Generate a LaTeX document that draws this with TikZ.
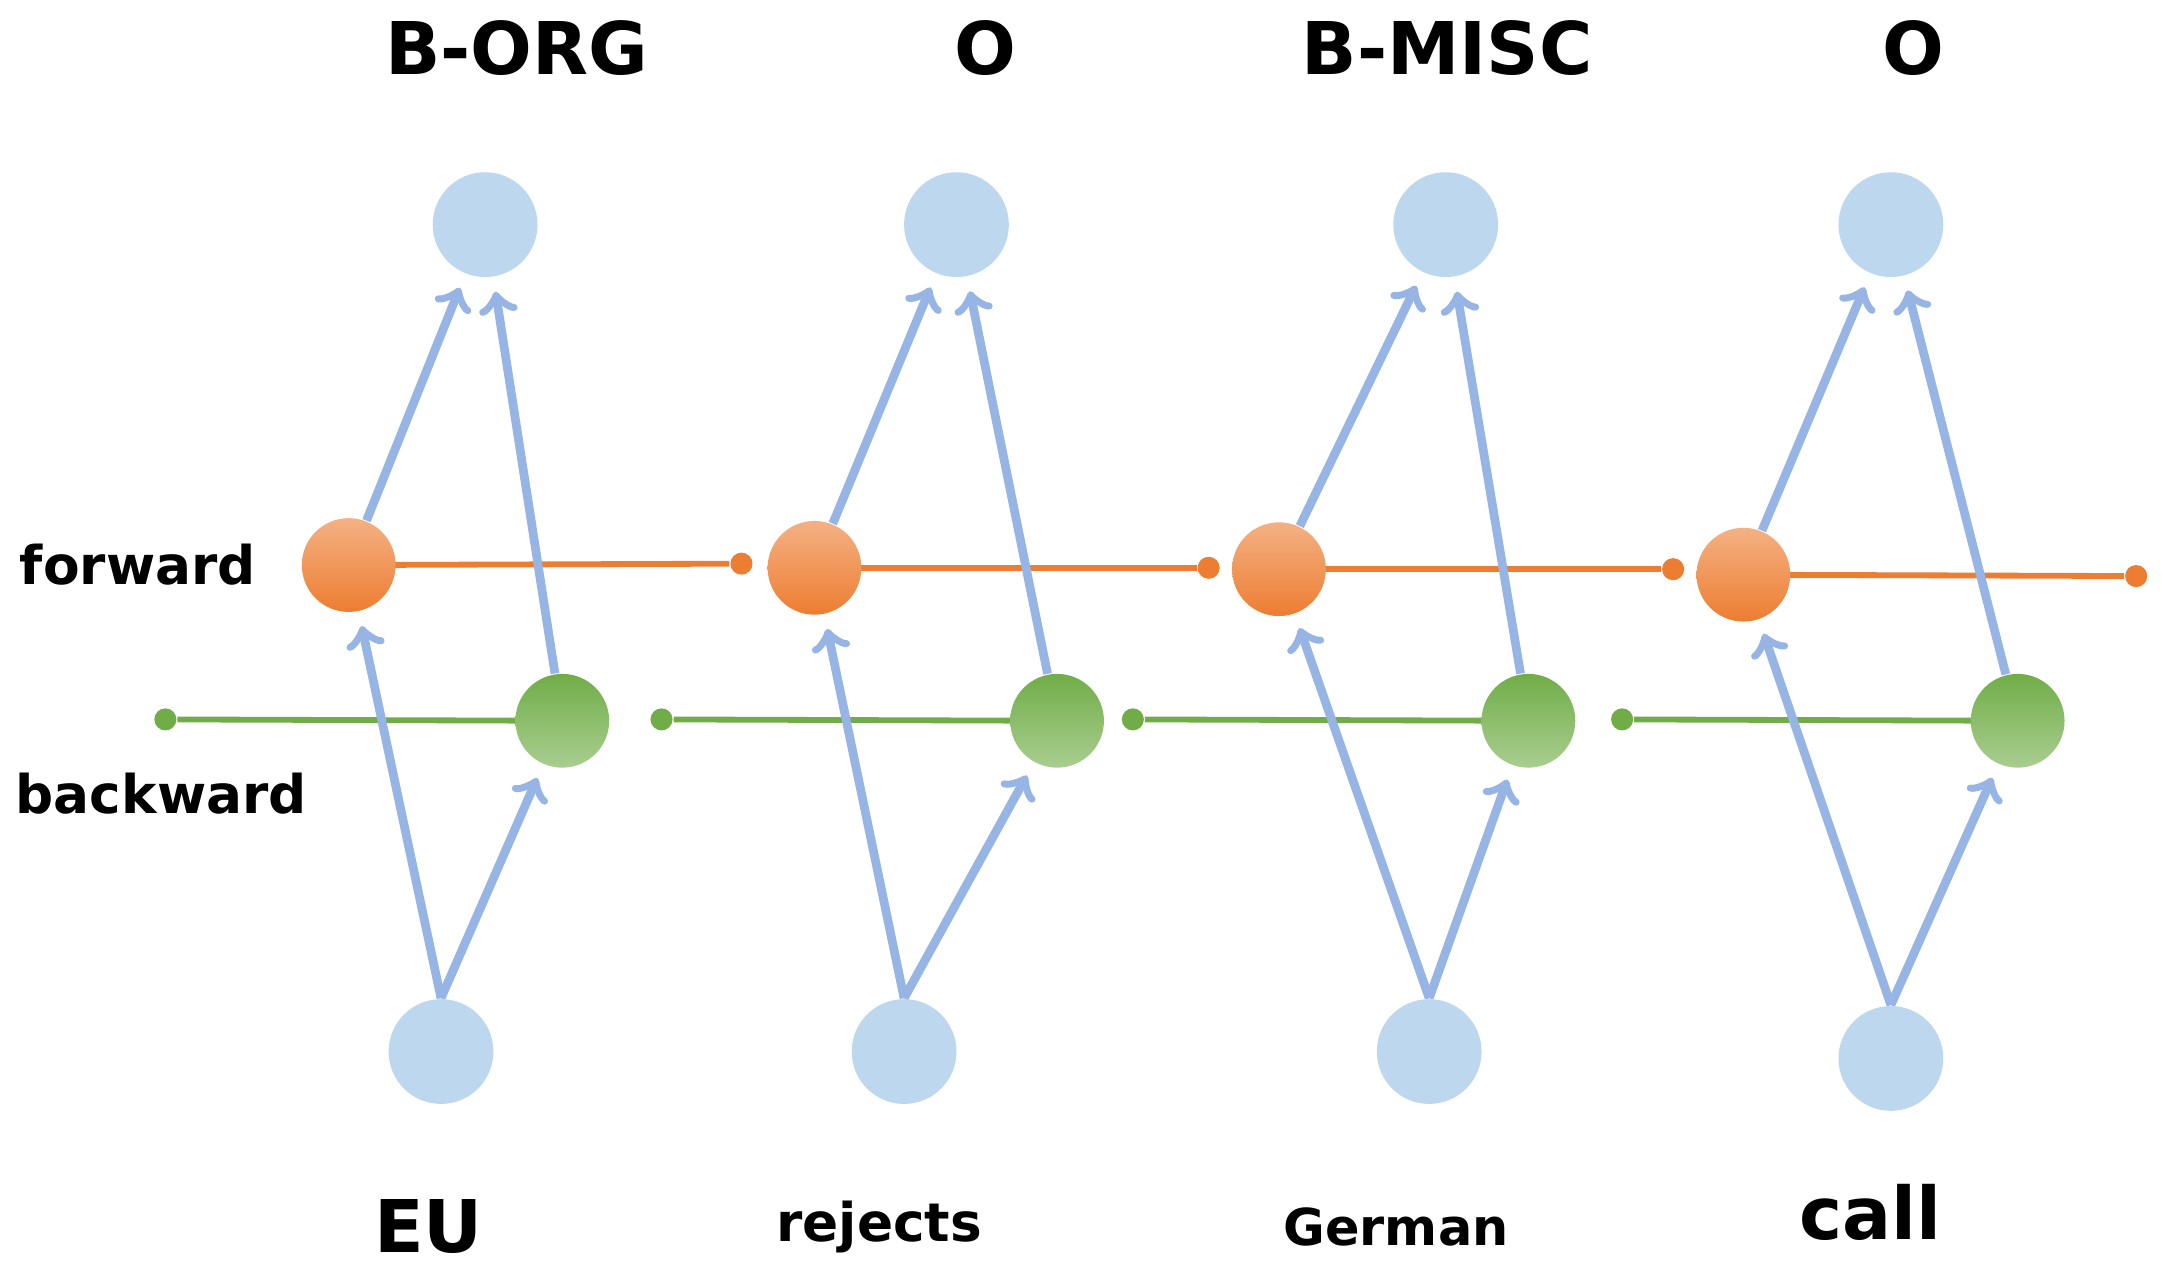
\documentclass[tikz,border=0pt]{standalone}
\usepackage{fontspec}
\setmainfont{DejaVu Sans}
\usetikzlibrary{backgrounds}
\definecolor{cellblue}{RGB}{189,215,238}
\definecolor{arrowblue}{RGB}{150,180,228}
\definecolor{fwdorange}{RGB}{237,125,49}
\definecolor{bwdgreen}{RGB}{112,173,71}
\tikzset{
  cell/.style={circle, fill=cellblue, minimum size=7.6mm, inner sep=0pt},
  fwd/.style={circle, top color=fwdorange!60!white, bottom color=fwdorange, minimum size=6.8mm, inner sep=0pt},
  bwd/.style={circle, top color=bwdgreen, bottom color=bwdgreen!60!white, minimum size=6.8mm, inner sep=0pt},
  dot/.style={circle, fill=#1, minimum size=1.6mm, inner sep=0pt},
  link/.style={->, >=to, draw=arrowblue, line width=1.8pt, shorten >=3pt},
  tag/.style={font=\bfseries\fontsize{15}{15}\selectfont},
  word/.style={font=\bfseries\fontsize{11}{11}\selectfont},
}
\begin{document}
\begin{tikzpicture}[x=0.01cm, y=-0.01cm]

     \useasboundingbox (0,0) rectangle (1568,928);

     % output cells
     \node (t1) at (352,163) [cell] {};
     \node (t2) at (694,163) [cell] {};
     \node (t3) at (1049,163) [cell] {};
     \node (t4) at (1372,163) [cell] {};

     % forward states
     \node (f1) at (253,410) [fwd] {};
     \node (f2) at (591,412) [fwd] {};
     \node (f3) at (928,413) [fwd] {};
     \node (f4) at (1265,417) [fwd] {};
     \node (e1) at (538,409) [dot=fwdorange] {};
     \node (e2) at (877,412) [dot=fwdorange] {};
     \node (e3) at (1214,413) [dot=fwdorange] {};
     \node (e4) at (1550,418) [dot=fwdorange] {};

     % backward states
     \node (b1) at (408,523) [bwd] {};
     \node (b2) at (767,523) [bwd] {};
     \node (b3) at (1109,523) [bwd] {};
     \node (b4) at (1464,523) [bwd] {};
     \node (s1) at (120,522) [dot=bwdgreen] {};
     \node (s2) at (480,522) [dot=bwdgreen] {};
     \node (s3) at (822,522) [dot=bwdgreen] {};
     \node (s4) at (1177,522) [dot=bwdgreen] {};

     % input cells
     \node (w1) at (320,763) [cell] {};
     \node (w2) at (656,763) [cell] {};
     \node (w3) at (1037,763) [cell] {};
     \node (w4) at (1372,768) [cell] {};

     \begin{scope}[on background layer]
     \foreach \i in {1,2,3,4} {
       \draw [fwdorange, line width=1.2pt] (f\i.center) -- (e\i);
       \draw [bwdgreen, line width=1.2pt] (b\i.center) -- (s\i);
       \draw [link] (w\i.north) -- (f\i);
       \draw [link] (w\i.north) -- (b\i);
       \draw [link] (f\i) -- (t\i);
       \draw [link] (b\i) -- (t\i);
     }
     \end{scope}

     \node (l1) at (375,35) [tag] {B-ORG};
     \node (l2) at (715,35) [tag] {O};
     \node (l3) at (1050,35) [tag] {B-MISC};
     \node (l4) at (1388,35) [tag] {O};

     \node (x1) at (311,890) [tag] {EU};
     \node (x2) at (638,890) [word] {rejects};
     \node (x3) at (1013,890) [font=\bfseries\fontsize{10.5}{10.5}\selectfont] {German};
     \node (x4) at (1357,880) [tag] {call};

     \node (fl) at (100,410) [word] {forward};
     \node (bl) at (117,576) [word] {backward};

 \end{tikzpicture}
\end{document}
